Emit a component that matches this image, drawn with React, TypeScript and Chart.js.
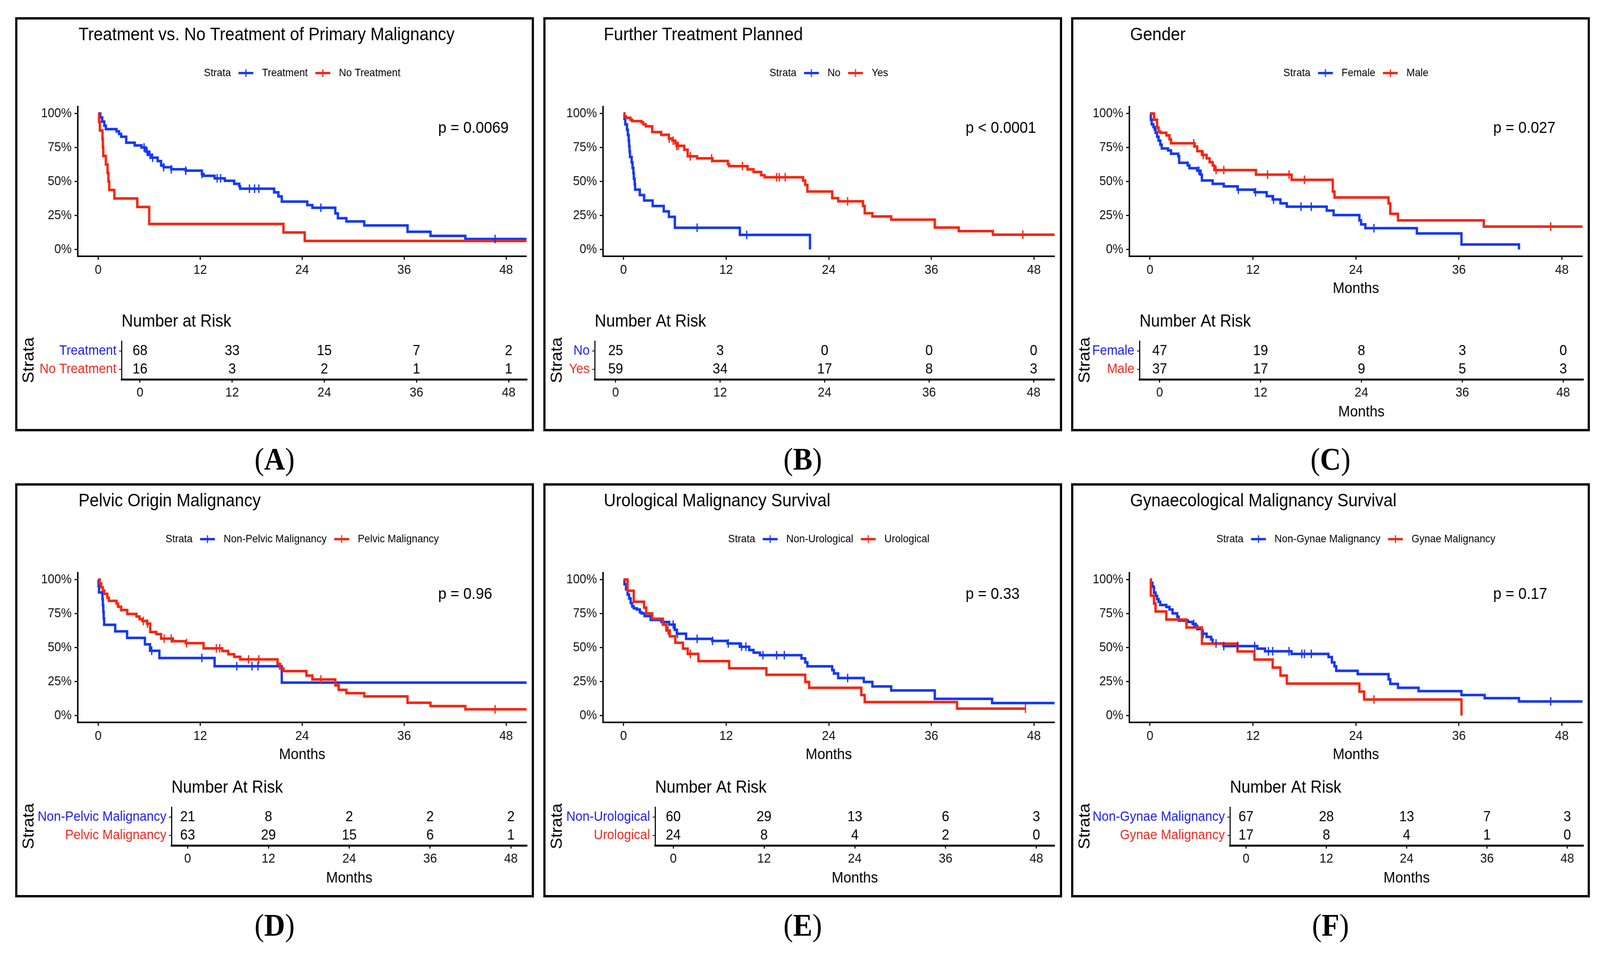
import React, { useEffect, useRef } from 'react';
import { Chart, registerables } from 'chart.js';

Chart.register(...registerables);

// ---------------- shared axis data ----------------
const MONTH_TICKS = [0, 12, 24, 36, 48];
const SURV_TICKS = [0, 0.25, 0.5, 0.75, 1];
const SURV_TICK_LABELS = ['0%', '25%', '50%', '75%', '100%'];
const RISK_TIMES = [0, 12, 24, 36, 48];
const STRATA_TITLE = 'Strata';
const MONTHS_TITLE = 'Months';
const PVAL_AT_MONTH = 40;
const PVAL_AT_SURV = 0.89;

// ---------------- Panel A ----------------
const A_LABEL = 'A';
const A_TITLE = 'Treatment vs. No Treatment of Primary Malignancy';
const A_STRATA = ['Treatment', 'No Treatment'];
const A_PVALUE = 'p = 0.0069';
const A_RISK_TITLE = 'Number at Risk';
const A_S1_TIME = [0, 0.25, 0.47, 0.72, 0.9, 2.16, 2.45, 2.7, 3.3, 4.3, 5.1, 5.6, 5.9, 6.3, 7.0, 7.4, 7.7, 8.6, 10.3, 12.2, 12.4, 13.7, 14.9, 16.0, 16.6, 16.7, 20.7, 21.2, 21.6, 24.6, 25.2, 27.9, 28.2, 29.2, 31.3, 36.4, 39.1, 43.2];
const A_S1_SURV = [1, 0.97, 0.94, 0.91, 0.885, 0.868, 0.85, 0.829, 0.785, 0.765, 0.75, 0.72, 0.695, 0.675, 0.65, 0.618, 0.605, 0.59, 0.58, 0.555, 0.542, 0.523, 0.505, 0.483, 0.465, 0.447, 0.42, 0.39, 0.352, 0.326, 0.307, 0.265, 0.23, 0.206, 0.177, 0.13, 0.1, 0.077];
const A_S1_CENSOR = [5.4, 5.75, 6.1, 6.4, 7.7, 8.6, 10.3, 12.2, 14.0, 14.4, 17.8, 18.4, 18.9, 26.2, 46.7];
const A_S1_END = 52;
const A_S2_TIME = [0, 0.1, 0.2, 0.5, 0.55, 0.6, 0.9, 1.1, 1.2, 1.3, 1.9, 4.6, 6.0, 21.8, 24.3];
const A_S2_SURV = [1, 0.9375, 0.875, 0.8125, 0.75, 0.6875, 0.625, 0.5625, 0.5, 0.4375, 0.375, 0.3125, 0.1875, 0.125, 0.0625];
const A_S2_CENSOR: number[] = [];
const A_S2_END = 52;
const A_S1_RISK = [68, 33, 15, 7, 2];
const A_S2_RISK = [16, 3, 2, 1, 1];

// ---------------- Panel B ----------------
const B_LABEL = 'B';
const B_TITLE = 'Further Treatment Planned';
const B_STRATA = ['No', 'Yes'];
const B_PVALUE = 'p < 0.0001';
const B_RISK_TITLE = 'Number At Risk';
const B_S1_TIME = [0, 0.1, 0.2, 0.4, 0.5, 0.6, 0.65, 0.7, 0.75, 0.95, 1.05, 1.15, 1.2, 1.3, 1.35, 1.9, 2.4, 3.4, 4.7, 5.3, 6.0, 13.6, 21.8];
const B_S1_SURV = [1, 0.96, 0.92, 0.88, 0.84, 0.8, 0.76, 0.72, 0.68, 0.64, 0.6, 0.56, 0.52, 0.48, 0.44, 0.4, 0.36, 0.32, 0.28, 0.24, 0.16, 0.107, 0];
const B_S1_CENSOR = [8.6, 14.4];
const B_S1_END = 21.8;
const B_S2_TIME = [0, 0.1, 0.3, 0.8, 1.0, 2.1, 2.3, 2.6, 3.35, 4.4, 5.3, 5.7, 6.05, 6.2, 7.1, 7.5, 8.6, 10.4, 12.2, 12.35, 14.5, 15.2, 16.1, 16.5, 21.0, 21.25, 21.5, 24.4, 25.1, 28.0, 28.2, 29.1, 31.3, 36.4, 39.2, 43.2];
const B_S2_SURV = [1, 0.978, 0.968, 0.954, 0.944, 0.935, 0.92, 0.906, 0.863, 0.843, 0.815, 0.8, 0.781, 0.762, 0.733, 0.685, 0.67, 0.651, 0.627, 0.613, 0.589, 0.57, 0.546, 0.531, 0.507, 0.474, 0.426, 0.378, 0.354, 0.32, 0.267, 0.243, 0.219, 0.161, 0.135, 0.109];
const B_S2_CENSOR = [5.35, 5.8, 6.2, 6.4, 7.8, 10.3, 13.9, 17.9, 18.2, 18.9, 26.2, 46.7];
const B_S2_END = 52;
const B_S1_RISK = [25, 3, 0, 0, 0];
const B_S2_RISK = [59, 34, 17, 8, 3];

// ---------------- Panel C ----------------
const C_LABEL = 'C';
const C_TITLE = 'Gender';
const C_STRATA = ['Female', 'Male'];
const C_PVALUE = 'p = 0.027';
const C_RISK_TITLE = 'Number At Risk';
const C_S1_TIME = [0, 0.1, 0.2, 0.4, 0.55, 0.65, 0.83, 1.0, 1.2, 1.37, 2.1, 2.45, 3.3, 3.4, 4.4, 4.6, 5.5, 5.9, 6.05, 7.3, 8.6, 10.2, 12.2, 13.6, 14.3, 15.2, 15.95, 20.6, 21.4, 24.4, 24.6, 25.1, 31.1, 36.3, 43.0];
const C_S1_SURV = [1, 0.954, 0.92, 0.9, 0.882, 0.858, 0.829, 0.8, 0.771, 0.743, 0.728, 0.704, 0.685, 0.637, 0.618, 0.598, 0.579, 0.55, 0.507, 0.483, 0.464, 0.44, 0.421, 0.392, 0.368, 0.339, 0.315, 0.286, 0.253, 0.214, 0.185, 0.157, 0.118, 0.037, 0];
const C_S1_CENSOR = [5.7, 10.3, 12.3, 14.4, 17.6, 18.8, 26.1];
const C_S1_END = 43.0;
const C_S2_TIME = [0, 0.47, 0.83, 1.0, 1.2, 1.9, 2.27, 2.45, 5.2, 5.5, 6.05, 6.6, 6.95, 7.3, 7.5, 12.35, 16.5, 21.3, 21.5, 27.8, 28.0, 28.9, 38.9];
const C_S2_SURV = [1, 0.954, 0.896, 0.867, 0.858, 0.839, 0.81, 0.781, 0.757, 0.723, 0.695, 0.67, 0.642, 0.618, 0.584, 0.55, 0.512, 0.426, 0.382, 0.339, 0.262, 0.214, 0.168];
const C_S2_CENSOR = [5.1, 6.2, 7.7, 8.6, 13.7, 16.2, 18.0, 46.7];
const C_S2_END = 52;
const C_S1_RISK = [47, 19, 8, 3, 0];
const C_S2_RISK = [37, 17, 9, 5, 3];

// ---------------- Panel D ----------------
const D_LABEL = 'D';
const D_TITLE = 'Pelvic Origin Malignancy';
const D_STRATA = ['Non-Pelvic Malignancy', 'Pelvic Malignancy'];
const D_PVALUE = 'p = 0.96';
const D_RISK_TITLE = 'Number At Risk';
const D_S1_TIME = [0, 0.05, 0.1, 0.5, 0.55, 0.6, 0.65, 0.7, 2.0, 3.4, 5.5, 6.1, 7.2, 13.7, 21.6];
const D_S1_SURV = [1, 0.952, 0.905, 0.857, 0.81, 0.762, 0.714, 0.667, 0.619, 0.571, 0.524, 0.476, 0.423, 0.363, 0.242];
const D_S1_CENSOR = [6.3, 12.2, 16.3, 18.1, 18.8];
const D_S1_END = 52;
const D_S2_TIME = [0, 0.18, 0.36, 0.54, 0.72, 1.08, 1.26, 2.16, 2.34, 2.7, 3.42, 4.5, 4.86, 5.2, 5.76, 6.12, 6.84, 7.4, 8.8, 10.3, 12.4, 14.6, 15.3, 16.0, 16.7, 21.1, 21.4, 21.8, 24.5, 25.2, 27.9, 28.3, 29.2, 31.3, 36.4, 39.1, 43.2];
const D_S2_SURV = [1, 0.971, 0.943, 0.919, 0.895, 0.866, 0.843, 0.823, 0.8, 0.776, 0.747, 0.728, 0.709, 0.695, 0.676, 0.614, 0.599, 0.566, 0.547, 0.532, 0.494, 0.475, 0.451, 0.432, 0.413, 0.38, 0.346, 0.327, 0.294, 0.265, 0.222, 0.189, 0.165, 0.141, 0.094, 0.07, 0.046];
const D_S2_CENSOR = [5.3, 5.8, 7.76, 8.6, 10.4, 13.9, 14.3, 17.7, 18.9, 26.2, 46.7];
const D_S2_END = 52;
const D_S1_RISK = [21, 8, 2, 2, 2];
const D_S2_RISK = [63, 29, 15, 6, 1];

// ---------------- Panel E ----------------
const E_LABEL = 'E';
const E_TITLE = 'Urological Malignancy Survival';
const E_STRATA = ['Non-Urological', 'Urological'];
const E_PVALUE = 'p = 0.33';
const E_RISK_TITLE = 'Number At Risk';
const E_S1_TIME = [0, 0.1, 0.29, 0.47, 0.65, 0.83, 1.0, 1.19, 1.55, 1.9, 2.1, 2.45, 3.17, 4.43, 5.33, 5.98, 6.23, 7.31, 10.37, 12.17, 13.6, 14.7, 15.2, 15.95, 20.8, 21.25, 21.5, 24.4, 24.6, 25.1, 28.1, 29.1, 31.3, 36.4, 43.1];
const E_S1_SURV = [1, 0.966, 0.928, 0.89, 0.861, 0.827, 0.803, 0.789, 0.78, 0.76, 0.751, 0.732, 0.703, 0.688, 0.669, 0.631, 0.602, 0.564, 0.549, 0.53, 0.506, 0.482, 0.463, 0.444, 0.42, 0.391, 0.362, 0.334, 0.31, 0.276, 0.247, 0.214, 0.185, 0.123, 0.092];
const E_S1_CENSOR = [5.8, 6.3, 8.6, 10.4, 12.25, 13.8, 14.3, 16.3, 17.9, 18.8, 26.2];
const E_S1_END = 52;
const E_S2_TIME = [0, 0.47, 1.19, 2.4, 2.65, 3.35, 4.6, 5.0, 5.4, 6.05, 6.95, 7.5, 8.75, 12.35, 16.7, 21.25, 21.7, 27.8, 28.2, 39.0];
const E_S2_SURV = [1, 0.918, 0.837, 0.794, 0.751, 0.712, 0.669, 0.626, 0.583, 0.535, 0.492, 0.453, 0.4, 0.348, 0.3, 0.247, 0.204, 0.151, 0.099, 0.051];
const E_S2_CENSOR = [5.2, 7.8, 47.0];
const E_S2_END = 47.0;
const E_S1_RISK = [60, 29, 13, 6, 3];
const E_S2_RISK = [24, 8, 4, 2, 0];

// ---------------- Panel F ----------------
const F_LABEL = 'F';
const F_TITLE = 'Gynaecological Malignancy Survival';
const F_STRATA = ['Non-Gynae Malignancy', 'Gynae Malignancy'];
const F_PVALUE = 'p = 0.17';
const F_RISK_TITLE = 'Number At Risk';
const F_S1_TIME = [0, 0.1, 0.29, 0.47, 0.65, 0.83, 1.0, 1.19, 1.9, 2.27, 2.63, 3.17, 3.35, 4.43, 4.97, 5.33, 5.5, 6.05, 6.6, 7.13, 7.3, 8.57, 12.5, 13.4, 16.5, 20.8, 21.2, 21.5, 21.7, 24.2, 27.8, 28.0, 28.9, 31.3, 36.3, 39.0, 43.0];
const F_S1_SURV = [1, 0.976, 0.947, 0.904, 0.88, 0.856, 0.837, 0.813, 0.799, 0.78, 0.751, 0.727, 0.698, 0.688, 0.674, 0.66, 0.636, 0.602, 0.578, 0.559, 0.53, 0.511, 0.492, 0.473, 0.453, 0.43, 0.391, 0.362, 0.329, 0.305, 0.267, 0.233, 0.204, 0.18, 0.151, 0.128, 0.104];
const F_S1_CENSOR = [5.1, 6.2, 7.7, 8.6, 10.2, 12.2, 13.8, 14.3, 16.2, 17.7, 18.0, 18.8, 46.7];
const F_S1_END = 52;
const F_S2_TIME = [0, 0.1, 0.47, 0.65, 1.9, 4.25, 6.05, 10.2, 12.17, 14.3, 15.2, 15.95, 24.4, 24.95, 36.3];
const F_S2_SURV = [1, 0.882, 0.824, 0.765, 0.706, 0.647, 0.529, 0.471, 0.412, 0.353, 0.294, 0.235, 0.176, 0.118, 0];
const F_S2_CENSOR = [26.1];
const F_S2_END = 36.3;
const F_S1_RISK = [67, 28, 13, 7, 3];
const F_S2_RISK = [17, 8, 4, 1, 0];

// ---------------- styles & layout ----------------
const FONT = "'Liberation Sans', Arial, Helvetica, sans-serif";
const SERIF = "'Liberation Serif', 'Times New Roman', serif";
const BLUE = '#1538f2';
const RED = '#f42612';
const BLUE_TXT = '#1c1ce6';
const RED_TXT = '#ec2820';
const INK = '#111111';

const FIG_W = 4423;
const FIG_H = 2447;
const PANEL_LEFT = [42, 1502, 2961];
const PANEL_TOP = [44, 1237];
const PANEL_W = 1434;
const PANEL_H = 1060;
const BW = 6;
const ROW_DY = 1193;
const PLOT_LEFT = [215, 1667, 3122];
const PLOT_RIGHT = [1457, 2915, 4377];
const PLOT_TOP = 273;
const PLOT_BOTTOM = 656;
const KM_AXIS_H = 112;
const TABLE_TOP = 873;
const TABLE_BOTTOM = 971;
const TABLE_PAD_TOP = 100;
const TITLE_Y = 90;
const LEGEND_Y = 187;
const LABEL_Y = 1175;
const X_MIN = -2.4;
const X_MAX = 50.4;

type Curve = { time: number[]; surv: number[]; censor: number[]; end: number };
type PanelDef = {
  label: string; title: string; strata: string[]; pvalue: string; riskTitle: string;
  curves: Curve[]; risk: number[][]; col: number; row: number; tableLeft: number; months: boolean;
};

const PANELS: PanelDef[] = [
  { label: A_LABEL, title: A_TITLE, strata: A_STRATA, pvalue: A_PVALUE, riskTitle: A_RISK_TITLE,
    curves: [{ time: A_S1_TIME, surv: A_S1_SURV, censor: A_S1_CENSOR, end: A_S1_END }, { time: A_S2_TIME, surv: A_S2_SURV, censor: A_S2_CENSOR, end: A_S2_END }],
    risk: [A_S1_RISK, A_S2_RISK], col: 0, row: 0, tableLeft: 336, months: false },
  { label: B_LABEL, title: B_TITLE, strata: B_STRATA, pvalue: B_PVALUE, riskTitle: B_RISK_TITLE,
    curves: [{ time: B_S1_TIME, surv: B_S1_SURV, censor: B_S1_CENSOR, end: B_S1_END }, { time: B_S2_TIME, surv: B_S2_SURV, censor: B_S2_CENSOR, end: B_S2_END }],
    risk: [B_S1_RISK, B_S2_RISK], col: 1, row: 0, tableLeft: 1644, months: false },
  { label: C_LABEL, title: C_TITLE, strata: C_STRATA, pvalue: C_PVALUE, riskTitle: C_RISK_TITLE,
    curves: [{ time: C_S1_TIME, surv: C_S1_SURV, censor: C_S1_CENSOR, end: C_S1_END }, { time: C_S2_TIME, surv: C_S2_SURV, censor: C_S2_CENSOR, end: C_S2_END }],
    risk: [C_S1_RISK, C_S2_RISK], col: 2, row: 0, tableLeft: 3150, months: true },
  { label: D_LABEL, title: D_TITLE, strata: D_STRATA, pvalue: D_PVALUE, riskTitle: D_RISK_TITLE,
    curves: [{ time: D_S1_TIME, surv: D_S1_SURV, censor: D_S1_CENSOR, end: D_S1_END }, { time: D_S2_TIME, surv: D_S2_SURV, censor: D_S2_CENSOR, end: D_S2_END }],
    risk: [D_S1_RISK, D_S2_RISK], col: 0, row: 1, tableLeft: 474, months: true },
  { label: E_LABEL, title: E_TITLE, strata: E_STRATA, pvalue: E_PVALUE, riskTitle: E_RISK_TITLE,
    curves: [{ time: E_S1_TIME, surv: E_S1_SURV, censor: E_S1_CENSOR, end: E_S1_END }, { time: E_S2_TIME, surv: E_S2_SURV, censor: E_S2_CENSOR, end: E_S2_END }],
    risk: [E_S1_RISK, E_S2_RISK], col: 1, row: 1, tableLeft: 1811, months: true },
  { label: F_LABEL, title: F_TITLE, strata: F_STRATA, pvalue: F_PVALUE, riskTitle: F_RISK_TITLE,
    curves: [{ time: F_S1_TIME, surv: F_S1_SURV, censor: F_S1_CENSOR, end: F_S1_END }, { time: F_S2_TIME, surv: F_S2_SURV, censor: F_S2_CENSOR, end: F_S2_END }],
    risk: [F_S1_RISK, F_S2_RISK], col: 2, row: 1, tableLeft: 3400, months: true },
];

function survAt(c: Curve, t: number) {
  let s = 1;
  for (let i = 0; i < c.time.length; i++) if (c.time[i] <= t) s = c.surv[i];
  return s;
}

function curvePoints(c: Curve) {
  const n = Math.min(c.time.length, c.surv.length);
  const pts = [] as { x: number; y: number }[];
  for (let i = 0; i < n; i++) pts.push({ x: c.time[i], y: c.surv[i] });
  const last = pts[pts.length - 1];
  if (c.end > last.x) pts.push({ x: c.end, y: last.y });
  return pts;
}

function geom(p: PanelDef) {
  const dy = p.row * ROW_DY;
  const pl = PANEL_LEFT[p.col];
  const pt = PANEL_TOP[p.row];
  const cl = pl + BW;
  const ct = pt + BW;
  const cw = PANEL_W - 2 * BW;
  const plotLeft = PLOT_LEFT[p.col];
  const plotRight = PLOT_RIGHT[p.col];
  const plotTop = PLOT_TOP + dy;
  const plotBottom = PLOT_BOTTOM + dy;
  const kmH = plotBottom + KM_AXIS_H - ct;
  const tTop = TABLE_TOP + dy;
  const tBottom = TABLE_BOTTOM + dy;
  const tct = tTop - TABLE_PAD_TOP;
  const tch = pt + PANEL_H - BW - tct;
  return { dy, pl, pt, cl, ct, cw, plotLeft, plotRight, plotTop, plotBottom, kmH, tTop, tBottom, tct, tch };
}

function xScaleOpts(height: number, showTitle: boolean, titlePadBottom: number, tickLen: number, borderW: number) {
  return {
    type: 'linear' as const,
    min: X_MIN,
    max: X_MAX,
    afterBuildTicks: (s: any) => { s.ticks = MONTH_TICKS.map((v) => ({ value: v })); },
    afterFit: (s: any) => { s.height = height; },
    ticks: { font: { size: 34, family: FONT }, color: INK, padding: 6, maxRotation: 0, autoSkip: false, callback: (v: any) => String(v) },
    grid: { display: true, drawOnChartArea: false, drawTicks: true, tickLength: tickLen, tickWidth: 3, tickColor: '#000', color: '#000' },
    border: { display: true, width: borderW, color: '#000' },
    title: { display: showTitle, text: MONTHS_TITLE, font: { size: 39, family: FONT }, color: '#000', padding: { top: 0, bottom: titlePadBottom } },
  };
}

function KMChart({ p }: { p: PanelDef }) {
  const ref = useRef<HTMLCanvasElement>(null);
  const g = geom(p);
  useEffect(() => {
    if (!ref.current) return;
    const colors = [BLUE, RED];
    const datasets: any[] = [];
    p.curves.forEach((c, i) => {
      datasets.push({
        type: 'line', data: curvePoints(c), borderColor: colors[i], backgroundColor: colors[i],
        borderWidth: 6.5, stepped: true, pointRadius: 0, fill: false, order: 3 - i,
      });
    });
    p.curves.forEach((c, i) => {
      datasets.push({
        type: 'line', data: c.censor.map((t) => ({ x: t, y: survAt(c, t) })), showLine: false,
        pointStyle: 'line', pointRotation: 90, pointRadius: 11, pointBorderWidth: 3.5,
        pointBorderColor: colors[i], borderColor: colors[i], backgroundColor: colors[i], order: 1 - i,
      });
    });
    const overlay = {
      id: 'kmOverlay',
      afterDraw(chart: any) {
        const ctx = chart.ctx;
        const area = chart.chartArea;
        ctx.save();
        ctx.fillStyle = '#000';
        ctx.textBaseline = 'middle';
        ctx.font = `46px ${FONT}`;
        ctx.textAlign = 'left';
        ctx.fillText(p.title, area.left + 2, TITLE_Y + g.dy - g.ct);
        const ly = LEGEND_Y + g.dy - g.ct;
        ctx.font = `28px ${FONT}`;
        const sym = 41, gapA = 21, gapB = 24;
        const wS = ctx.measureText(STRATA_TITLE).width;
        const w1 = ctx.measureText(p.strata[0]).width;
        const w2 = ctx.measureText(p.strata[1]).width;
        const total = wS + gapA + sym + gapB + w1 + gapA + sym + gapB + w2;
        let x = (area.left + area.right) / 2 - total / 2;
        ctx.fillStyle = '#000';
        ctx.fillText(STRATA_TITLE, x, ly);
        x += wS + gapA;
        [0, 1].forEach((i) => {
          ctx.strokeStyle = colors[i];
          ctx.lineWidth = 6;
          ctx.beginPath(); ctx.moveTo(x, ly); ctx.lineTo(x + sym, ly); ctx.stroke();
          ctx.lineWidth = 3;
          ctx.beginPath(); ctx.moveTo(x + sym / 2, ly - 10); ctx.lineTo(x + sym / 2, ly + 10); ctx.stroke();
          x += sym + gapB;
          ctx.fillStyle = '#000';
          ctx.fillText(p.strata[i], x, ly);
          x += (i === 0 ? w1 : w2) + gapA;
        });
        const xs = chart.scales.x, ys = chart.scales.y;
        ctx.font = `41px ${FONT}`;
        ctx.fillStyle = '#000';
        ctx.fillText(p.pvalue, xs.getPixelForValue(PVAL_AT_MONTH), ys.getPixelForValue(PVAL_AT_SURV));
        ctx.restore();
      },
    };
    const chart = new Chart(ref.current, {
      type: 'line',
      data: { datasets },
      options: {
        animation: false, responsive: false, devicePixelRatio: 1, events: [],
        layout: { padding: { left: 0, top: g.plotTop - g.ct, right: g.cl + g.cw - g.plotRight, bottom: 0 } },
        plugins: { legend: { display: false }, tooltip: { enabled: false }, title: { display: false } },
        scales: {
          x: xScaleOpts(KM_AXIS_H, p.months, 5.6, 9, 4) as any,
          y: {
            type: 'linear', min: -0.05, max: 1.05,
            afterBuildTicks: (s: any) => { s.ticks = SURV_TICKS.map((v) => ({ value: v })); },
            afterFit: (s: any) => { s.width = g.plotLeft - g.cl; },
            ticks: { font: { size: 33, family: FONT }, color: INK, padding: 8, autoSkip: false,
              callback: (v: any) => SURV_TICK_LABELS[SURV_TICKS.indexOf(Number(v))] },
            grid: { display: true, drawOnChartArea: false, drawTicks: true, tickLength: 9, tickWidth: 3, tickColor: '#000', color: '#000' },
            border: { display: true, width: 4, color: '#000' },
          } as any,
        },
      },
      plugins: [overlay],
    } as any);
    return () => chart.destroy();
  }, []);
  return (
    <canvas ref={ref} width={g.cw} height={g.kmH}
      style={{ position: 'absolute', left: g.cl, top: g.ct, width: g.cw, height: g.kmH }} />
  );
}

function RiskTable({ p }: { p: PanelDef }) {
  const ref = useRef<HTMLCanvasElement>(null);
  const g = geom(p);
  useEffect(() => {
    if (!ref.current) return;
    const datasets = p.risk.map((vals, i) => ({
      type: 'scatter', data: RISK_TIMES.map((t) => ({ x: t, y: i + 1 })), pointRadius: 0, showLine: false,
    }));
    const overlay = {
      id: 'riskOverlay',
      afterDatasetsDraw(chart: any) {
        const ctx = chart.ctx;
        ctx.save();
        ctx.fillStyle = '#000';
        ctx.textBaseline = 'middle';
        ctx.textAlign = 'center';
        ctx.font = `37px ${FONT}`;
        p.risk.forEach((vals, i) => {
          const meta = chart.getDatasetMeta(i);
          meta.data.forEach((el: any, j: number) => {
            ctx.fillText(String(vals[j]), el.x, el.y);
          });
        });
        ctx.textAlign = 'left';
        ctx.font = `44px ${FONT}`;
        ctx.fillText(p.riskTitle, chart.chartArea.left, chart.chartArea.top - 49);
        ctx.restore();
      },
    };
    const chart = new Chart(ref.current, {
      type: 'scatter',
      data: { datasets },
      options: {
        animation: false, responsive: false, devicePixelRatio: 1, events: [],
        layout: { padding: { left: 0, top: TABLE_PAD_TOP, right: g.cl + g.cw - g.plotRight, bottom: 0 } },
        plugins: { legend: { display: false }, tooltip: { enabled: false }, title: { display: false } },
        scales: {
          x: xScaleOpts(g.tct + g.tch - g.tBottom, p.months, 19.6, 8, 5) as any,
          y: {
            type: 'linear', reverse: true, min: 0.45, max: 2.55,
            afterBuildTicks: (s: any) => { s.ticks = [{ value: 1 }, { value: 2 }]; },
            afterFit: (s: any) => { s.width = p.tableLeft - g.cl; },
            ticks: { font: { size: 35, family: FONT }, padding: 7, autoSkip: false,
              color: (c: any) => (c.index === 0 ? BLUE_TXT : RED_TXT),
              callback: (v: any) => p.strata[Math.round(Number(v)) - 1] },
            grid: { display: true, drawOnChartArea: false, drawTicks: true, tickLength: 7, tickWidth: 2, tickColor: '#000', color: '#000' },
            border: { display: true, width: 3, color: '#000' },
            title: { display: true, text: STRATA_TITLE, font: { size: 44, family: FONT }, color: '#000', padding: { top: 6, bottom: 0 } },
          } as any,
        },
      },
      plugins: [overlay],
    } as any);
    return () => chart.destroy();
  }, []);
  return (
    <canvas ref={ref} width={g.cw} height={g.tch}
      style={{ position: 'absolute', left: g.cl, top: g.tct, width: g.cw, height: g.tch }} />
  );
}

function Panel({ p }: { p: PanelDef }) {
  const g = geom(p);
  return (
    <>
      <div style={{ position: 'absolute', left: g.pl, top: g.pt, width: PANEL_W, height: PANEL_H,
        border: `${BW}px solid #000`, boxSizing: 'border-box', background: '#fff' }} />
      <KMChart p={p} />
      <RiskTable p={p} />
      <div style={{ position: 'absolute', left: g.pl + PANEL_W / 2, top: LABEL_Y + g.dy,
        transform: 'translate(-50%, -50%)', fontFamily: SERIF, fontSize: 80, lineHeight: 1, color: '#000', whiteSpace: 'nowrap' }}>
        (<b>{p.label}</b>)
      </div>
    </>
  );
}

export default function App() {
  // The figure is laid out in reference pixels (4423 x 2447) and fitted to the actual viewport.
  const vw = typeof window !== 'undefined' && window.innerWidth ? window.innerWidth : FIG_W;
  const vh = typeof window !== 'undefined' && window.innerHeight ? window.innerHeight : FIG_H;
  const sx = vw / FIG_W;
  const sy = vh / FIG_H;
  return (
    <div style={{ position: 'absolute', left: 0, top: 0, width: FIG_W, height: FIG_H, background: '#fff',
      overflow: 'hidden', transform: `scale(${sx}, ${sy})`, transformOrigin: '0 0' }}>
      {PANELS.map((p) => <Panel key={p.label} p={p} />)}
    </div>
  );
}
